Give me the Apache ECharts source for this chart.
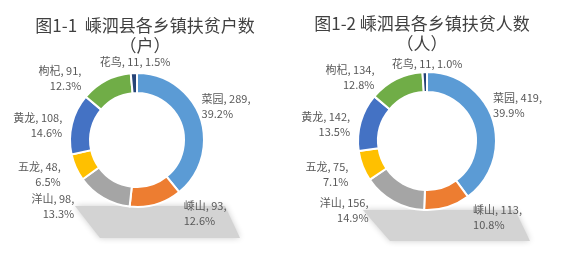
<!DOCTYPE html>
<html>
<head>
<meta charset="utf-8">
<script src="https://cdn.jsdelivr.net/npm/echarts@6/dist/echarts.min.js"></script>
<style>
  html, body { margin: 0; padding: 0; background: #fff; }
  #chart { width: 576px; height: 256px; }
</style>
</head>
<body>
<div id="chart"></div>
<script>
// 乡镇（顺时针，自12点起）
const towns = ['菜园', '嵊山', '洋山', '五龙', '黄龙', '枸杞', '花鸟'];
const households = [289, 93, 98, 48, 108, 91, 11];   // 图1-1 扶贫户数
const people = [419, 113, 156, 75, 142, 134, 11];    // 图1-2 扶贫人数
const colors = ['#5b9bd5', '#ed7d31', '#a5a5a5', '#ffc000', '#4472c4', '#70ad47', '#264478'];

// label nudges (px) to mimic the Excel "best fit" placement
const nudgeLeft = [[-13, -8], [20, -1], [-19, 0], [-1, 3], [5, 4], [-15, 7], [42, -1]];
const nudgeRight = [[-14, -11], [18, 1], [-15, 0], [0, 5], [4, 5], [-12, 7], [43, 2]];

const font = '"Noto Sans CJK SC", sans-serif';
const chart = echarts.init(document.getElementById('chart'));

function pieData(values) {
  return towns.map((name, i) => ({
    name: name,
    value: values[i],
    itemStyle: { color: colors[i] }
  }));
}

function labelFmt(p) {
  if (p.name === '花鸟') return p.name + ', ' + p.value + ', ' + p.percent.toFixed(1) + '%';
  return p.name + ', ' + p.value + ',\n' + p.percent.toFixed(1) + '%';
}

function donut(values, center, radius, nudge) {
  return {
    type: 'pie',
    center: center,
    radius: radius,
    startAngle: 90,
    clockwise: true,
    percentPrecision: 1,
    avoidLabelOverlap: false,
    minShowLabelAngle: 0,
    data: pieData(values),
    itemStyle: { borderColor: '#fff', borderWidth: 2 },
    label: {
      show: true,
      position: 'outside',
      formatter: labelFmt,
      color: '#595959',
      fontFamily: font,
      fontSize: 11,
      lineHeight: 15,
      align: 'center',
      overflow: 'none'
    },
    labelLine: { show: false, length: 10, length2: 0 },
    labelLayout: function (p) {
      const n = nudge[p.dataIndex];
      return { dx: n[0], dy: n[1] };
    },
    emphasis: { disabled: true }
  };
}

const option = {
  backgroundColor: '#fff',
  animation: false,
  title: [
    {
      text: '图1-1  嵊泗县各乡镇扶贫户数\n（户）',
      left: 140, top: 11, textAlign: 'center',
      textStyle: { fontFamily: font, fontSize: 17, fontWeight: 'normal', color: '#404040', lineHeight: 20 }
    },
    {
      text: '图1-2 嵊泗县各乡镇扶贫人数\n（人）',
      left: 417, top: 9, textAlign: 'center',
      textStyle: { fontFamily: font, fontSize: 17, fontWeight: 'normal', color: '#404040', lineHeight: 20 }
    }
  ],
  graphic: [
    {
      type: 'polygon', z: -1,
      shape: { points: [[75, 206], [225, 206], [240, 238], [100, 238]] },
      style: { fill: '#d3d3d3', shadowBlur: 6, shadowColor: 'rgba(0,0,0,0.2)' }
    },
    {
      type: 'polygon', z: -1,
      shape: { points: [[363, 210], [515, 210], [530, 241], [390, 241]] },
      style: { fill: '#d3d3d3', shadowBlur: 6, shadowColor: 'rgba(0,0,0,0.2)' }
    }
  ],
  series: [
    donut(households, [137, 140], [47, 67], nudgeLeft),
    donut(people, [427, 141], [49, 69], nudgeRight)
  ]
};

chart.setOption(option);
</script>
</body>
</html>
